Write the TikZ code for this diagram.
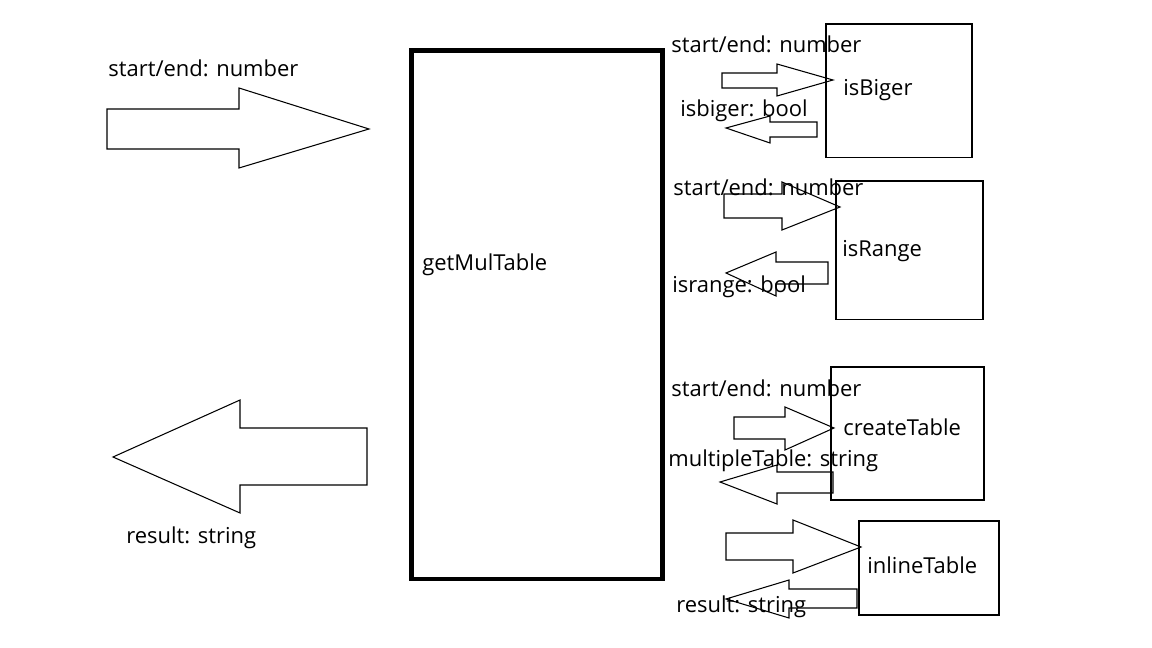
\documentclass[tikz,border=0pt]{standalone}
\usepackage{fontspec}
\setmainfont{Open Sans}
\usepackage{tikz}
\tikzset{
	fnbox/.style = { draw, line width = 0.6pt, inner sep = 0pt, outer sep = 0pt, anchor = north west },
	mainbox/.style = { draw, line width = 2.4pt, inner sep = 0pt, outer sep = 0pt, anchor = north west },
	lbl/.style = { anchor = base west, inner sep = 0pt, font = \fontsize{12.5}{14}\selectfont },
	blk/.style = { draw, line width = 0.6pt }
}

\begin{document}
\begin{tikzpicture}[x = 0.02cm, y = -0.02cm]
	\useasboundingbox (0, 0) rectangle (1152, 648);

	% Boxes.
	\node [mainbox, minimum width = 5.02cm, minimum height = 10.57cm] (mul) at (411.5, 50.5) {};
	\node [fnbox, minimum width = 2.92cm, minimum height = 2.68cm] (biger) at (826, 24) {};
	\node [fnbox, minimum width = 2.94cm, minimum height = 2.78cm] (range) at (836, 181) {};
	\node [fnbox, minimum width = 3.06cm, minimum height = 2.66cm] (create) at (831, 367) {};
	\node [fnbox, minimum width = 2.80cm, minimum height = 1.88cm] (inline) at (859, 521) {};

	% Input of getMulTable.
	\draw [blk] (107, 109)
		-- (239, 109)
		-- (239, 88)
		-- (369, 129)
		-- (239, 168)
		-- (239, 149)
		-- (107, 149)
		-- cycle;

	% Output of getMulTable.
	\draw [blk] (113, 457)
		-- (240, 400)
		-- (240, 428)
		-- (367, 428)
		-- (367, 485)
		-- (240, 485)
		-- (240, 513)
		-- cycle;

	% isBiger.
	\draw [blk] (722, 73)
		-- (777, 73)
		-- (777, 64)
		-- (833, 80)
		-- (777, 96)
		-- (777, 88)
		-- (722, 88)
		-- cycle;
	\draw [blk] (726, 128)
		-- (770, 116)
		-- (770, 122)
		-- (817, 122)
		-- (817, 137)
		-- (770, 137)
		-- (770, 143)
		-- cycle;

	% isRange.
	\draw [blk] (724, 194)
		-- (782, 194)
		-- (782, 182)
		-- (840, 207)
		-- (782, 230)
		-- (782, 218)
		-- (724, 218)
		-- cycle;
	\draw [blk] (726, 273)
		-- (776, 252)
		-- (776, 262)
		-- (828, 262)
		-- (828, 284)
		-- (776, 284)
		-- (776, 296)
		-- cycle;

	% createTable.
	\draw [blk] (734, 417)
		-- (785, 417)
		-- (785, 407)
		-- (834, 428)
		-- (785, 450)
		-- (785, 439)
		-- (734, 439)
		-- cycle;
	\draw [blk] (720, 482)
		-- (777, 465)
		-- (777, 472)
		-- (833, 472)
		-- (833, 493)
		-- (777, 493)
		-- (777, 504)
		-- cycle;

	% inlineTable.
	\draw [blk] (726, 533)
		-- (793, 533)
		-- (793, 520)
		-- (861, 547)
		-- (793, 573)
		-- (793, 560)
		-- (726, 560)
		-- cycle;
	\draw [blk] (726, 599)
		-- (789, 580)
		-- (789, 589)
		-- (857, 589)
		-- (857, 608)
		-- (789, 608)
		-- (789, 618)
		-- cycle;

	% Labels.
	\node [lbl] (inL) at (108, 77) {start/end: number};
	\node [lbl] (outL) at (126, 543) {result: string};
	\node [lbl] (mulL) at (422, 271) {getMulTable};

	\node [lbl] (bigerIn) at (671, 53) {start/end: number};
	\node [lbl] (bigerL) at (843, 96) {isBiger};
	\node [lbl] (bigerOut) at (680, 117) {isbiger: bool};

	\node [lbl] (rangeIn) at (673, 196) {start/end: number};
	\node [lbl] (rangeL) at (842, 257) {isRange};
	\node [lbl] (rangeOut) at (672, 293) {isrange: bool};

	\node [lbl] (createIn) at (671, 396) {start/end: number};
	\node [lbl] (createL) at (843, 435) {createTable};
	\node [lbl] (createOut) at (668, 466) {multipleTable: string};

	\node [lbl] (inlineL) at (867, 573) {inlineTable};
	\node [lbl] (inlineOut) at (676, 612) {result: string};
\end{tikzpicture}
\end{document}
